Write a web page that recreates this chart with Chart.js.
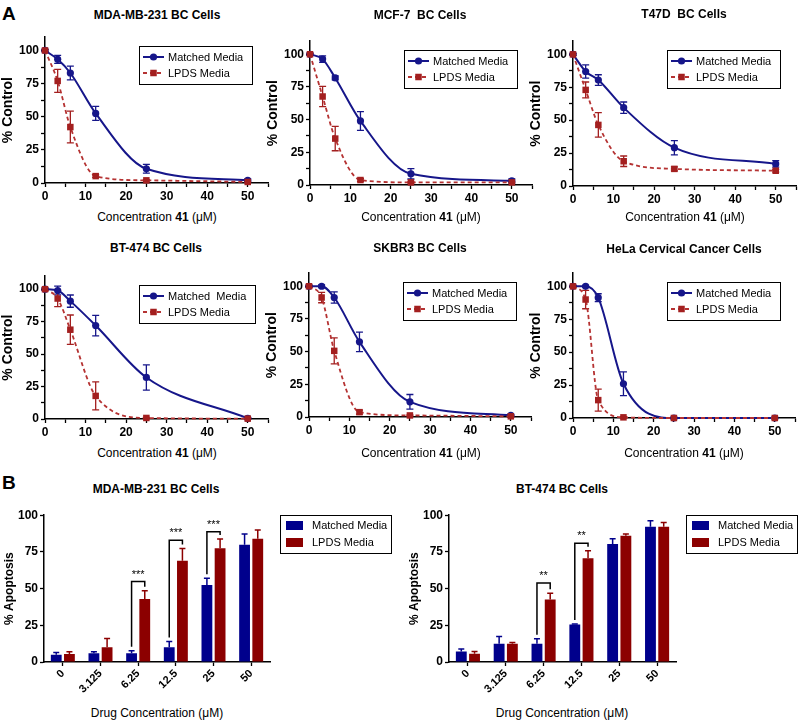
<!DOCTYPE html>
<html><head><meta charset="utf-8">
<script src="https://cdn.jsdelivr.net/npm/chart.js@4.4.1/dist/chart.umd.min.js"></script>
<style>
html,body{margin:0;padding:0;background:#fff}
body{width:799px;height:722px;position:relative;overflow:hidden;font-family:"Liberation Sans",Arial,sans-serif;color:#000}
canvas{position:absolute}
.lbl{position:absolute;transform:translate(-50%,-50%);white-space:pre;line-height:1}
.ttl{font-weight:bold;font-size:12px}
.xt{font-size:12px}
.big{position:absolute;font-weight:bold;font-size:19px;line-height:1}
</style></head>
<body>
<div class="big" style="left:2px;top:4px">A</div>
<div class="big" style="left:2px;top:473px">B</div>
<script>
// ---------- DATA ----------
const concentrations = [0, 3.125, 6.25, 12.5, 25, 50];

const mdaMatched    = [100, 93.3, 83, 52.5, 10.7, 2];
const mdaMatchedErr = [0.8, 3, 5.2, 5.3, 3.3, 1];
const mdaLpds       = [100, 77, 42.2, 5.2, 2, 0.8];
const mdaLpdsErr    = [0.8, 8.7, 12, 1, 0.5, 0.5];

const mcfMatched    = [100, 96.3, 81.9, 49, 8.6, 3.2];
const mcfMatchedErr = [0.8, 2.5, 1.5, 7.2, 4, 1.5];
const mcfLpds       = [100, 67.7, 35.5, 3.8, 2, 2];
const mcfLpdsErr    = [0.8, 7.8, 9.3, 1, 0.5, 0.5];

const t47Matched    = [100, 87, 80.5, 59.5, 29.1, 16.8];
const t47MatchedErr = [0.8, 5, 4, 4.3, 5.4, 2.5];
const t47Lpds       = [100, 73, 46.4, 18.8, 13, 11.6];
const t47LpdsErr    = [0.8, 6, 9.3, 4, 1.5, 1];

const btMatched     = [100, 99, 90.8, 72, 32, 0.5];
const btMatchedErr  = [0.8, 3.4, 4.7, 7.9, 9.7, 0.8];
const btLpds        = [100, 92.8, 68.8, 17.8, 0.8, 0.3];
const btLpdsErr     = [0.8, 6.3, 11.3, 10.8, 0.5, 0.5];

const skMatched     = [100, 100, 91.4, 57.5, 11.6, 1.2];
const skMatchedErr  = [0.8, 1, 4.3, 7.5, 5.6, 0.8];
const skLpds        = [100, 91.4, 50.6, 3.7, 1.2, 0.5];
const skLpdsErr     = [0.8, 4, 10, 1.5, 0.5, 0.5];

const helaMatched    = [100, 100, 91.4, 26, 0, 0];
const helaMatchedErr = [0.8, 0.8, 3, 9, 0.5, 0.5];
const helaLpds       = [100, 90, 13.6, 0.5, 0, 0];
const helaLpdsErr    = [0.8, 7, 8.4, 0.5, 0, 0];

const drugLabels = ['0', '3.125', '6.25', '12.5', '25', '50'];

const mdaApoMatched    = [5, 6, 6, 10, 52.4, 79.8];
const mdaApoMatchedErr = [1.5, 1, 1.6, 4, 4.7, 7.4];
const mdaApoLpds       = [5.5, 10, 43, 69, 77.5, 84];
const mdaApoLpdsErr    = [1.5, 6, 5.6, 8.3, 6.3, 5.9];
const mdaSigIndex = [2, 3, 4];
const mdaSigTop   = [54.8, 82.9, 88.7];
const mdaSigText  = ['***', '***', '***'];

const btApoMatched    = [7.2, 12.4, 12.4, 25.5, 80.4, 92.1];
const btApoMatchedErr = [1.6, 4.9, 3.4, 0.4, 3.6, 4.1];
const btApoLpds       = [5.6, 12.4, 42.6, 70.7, 86, 92.1];
const btApoLpdsErr    = [1.6, 0.9, 4.2, 5, 1.2, 2.9];
const btSigIndex = [2, 3];
const btSigTop   = [53.8, 80.9];
const btSigText  = ['**', '**'];

// ---------- STYLE ----------
const FONT = '"Liberation Sans", Arial, sans-serif';
Chart.defaults.font.family = FONT;
Chart.defaults.color = '#000';
const NAVY = '#16168a', DRED = '#a31f1f', DRED_LINE = '#b53232';
const BAR_BLUE = '#00008c', BAR_RED = '#8c0000';

// ---------- PLUGINS ----------
function drawErrors(chart, o) {
  const ys = chart.scales.y, ctx = chart.ctx;
  ctx.save();
  chart.data.datasets.forEach((ds, i) => {
    const errs = o.errors[i]; if (!errs) return;
    const meta = chart.getDatasetMeta(i);
    ctx.strokeStyle = ds.errorColor || ds.borderColor;
    ctx.lineWidth = o.lineWidth || 1.3;
    meta.data.forEach((el, j) => {
      const raw = ds.data[j]; const v = typeof raw === 'object' ? raw.y : raw;
      const e = errs[j]; if (!e) return;
      const x = el.x;
      const top = ys.getPixelForValue(v + e);
      const bot = o.upOnly ? ys.getPixelForValue(v) : ys.getPixelForValue(v - e);
      ctx.beginPath();
      ctx.moveTo(x, top); ctx.lineTo(x, bot);
      ctx.moveTo(x - o.cap, top); ctx.lineTo(x + o.cap, top);
      if (!o.upOnly) { ctx.moveTo(x - o.cap, bot); ctx.lineTo(x + o.cap, bot); }
      ctx.stroke();
    });
  });
  ctx.restore();
}
const errorBars = {
  id: 'errorBars',
  beforeDatasetsDraw(chart, a, o) { if (o && o.errors && o.layer === 'before') drawErrors(chart, o); },
  afterDatasetsDraw(chart, a, o) { if (o && o.errors && o.layer === 'after') drawErrors(chart, o); }
};

const boxLegend = {
  id: 'boxLegend',
  afterDraw(chart, a, o) {
    if (!o || !o.display) return;
    const ctx = chart.ctx, ca = chart.chartArea;
    const items = chart.data.datasets;
    ctx.save();
    ctx.font = o.font;
    const tw = Math.max(...items.map(d => ctx.measureText(d.label).width));
    const left = Math.round((o.outside ? ca.right : ca.left) + o.dx);
    const top = Math.round(ca.top + o.dy);
    const w = Math.round(o.padLeft + o.sampleWidth + o.gap + tw + o.padRight);
    const h = Math.round(o.rowHeight * items.length + o.padY * 2);
    ctx.fillStyle = '#fff'; ctx.fillRect(left, top, w, h);
    ctx.strokeStyle = '#000'; ctx.lineWidth = 1; ctx.strokeRect(left + 0.5, top + 0.5, w, h);
    items.forEach((d, i) => {
      const cy = top + o.padY + o.rowHeight * (i + 0.5);
      const sx = left + o.padLeft;
      if (o.kind === 'line') {
        ctx.strokeStyle = d.borderColor; ctx.lineWidth = d.borderWidth;
        ctx.setLineDash(d.borderDash || []);
        ctx.beginPath(); ctx.moveTo(sx, cy); ctx.lineTo(sx + o.sampleWidth, cy); ctx.stroke();
        ctx.setLineDash([]);
        const mx = sx + o.sampleWidth / 2;
        ctx.fillStyle = d.pointBackgroundColor;
        if (d.pointStyle === 'rect') {
          const s = Math.SQRT1_2 * d.pointRadius;
          ctx.fillRect(mx - s, cy - s, 2 * s, 2 * s);
        } else {
          ctx.beginPath(); ctx.arc(mx, cy, d.pointRadius, 0, Math.PI * 2); ctx.fill();
        }
      } else {
        ctx.fillStyle = d.backgroundColor;
        ctx.fillRect(sx, cy - o.boxH / 2, o.sampleWidth, o.boxH);
      }
      ctx.fillStyle = '#000'; ctx.textBaseline = 'middle'; ctx.textAlign = 'left';
      ctx.fillText(d.label, sx + o.sampleWidth + o.gap, cy + 0.5);
    });
    ctx.restore();
  }
};

const sigBrackets = {
  id: 'sigBrackets',
  afterDatasetsDraw(chart, a, o) {
    if (!o || !o.index) return;
    const ys = chart.scales.y, ctx = chart.ctx;
    const eb = chart.options.plugins.errorBars;
    const d0 = chart.data.datasets[0].data, d1 = chart.data.datasets[1].data;
    const m0 = chart.getDatasetMeta(0), m1 = chart.getDatasetMeta(1);
    ctx.save();
    ctx.strokeStyle = '#000'; ctx.lineWidth = 1.5; ctx.fillStyle = '#000';
    ctx.font = o.font; ctx.textAlign = 'center'; ctx.textBaseline = 'middle';
    o.index.forEach((ci, k) => {
      const x0 = m0.data[ci].x, x1 = m1.data[ci].x;
      const yt = ys.getPixelForValue(o.top[k]);
      const yl = ys.getPixelForValue(d0[ci] + eb.errors[0][ci]) - o.gap;
      const yr = ys.getPixelForValue(d1[ci] + eb.errors[1][ci]) - o.gap;
      ctx.beginPath();
      ctx.moveTo(x0, yl); ctx.lineTo(x0, yt); ctx.lineTo(x1, yt); ctx.lineTo(x1, yr);
      ctx.stroke();
      ctx.fillText(o.text[k], (x0 + x1) / 2, yt - 7);
    });
    ctx.restore();
  }
};

// ---------- HELPERS ----------
function addText(cls, html, cx, cy) {
  const d = document.createElement('div');
  d.className = 'lbl ' + cls; d.innerHTML = html;
  d.style.left = cx + 'px'; d.style.top = cy + 'px';
  document.body.appendChild(d);
}
function makeCanvas(left, top, width, height) {
  const c = document.createElement('canvas');
  c.width = width; c.height = height;
  c.style.left = left + 'px'; c.style.top = top + 'px';
  c.style.width = width + 'px'; c.style.height = height + 'px';
  document.body.appendChild(c);
  return c.getContext('2d');
}
const tickFont = { size: 12, weight: 'bold', family: FONT };
function axisCommon() {
  return {
    grid: { display: true, drawOnChartArea: false, drawTicks: true, tickLength: 4, color: '#000', tickColor: '#000', tickWidth: 1.3 },
    border: { display: true, color: '#000', width: 1.5 }
  };
}

function linePanel(g, matched, matchedErr, lpds, lpdsErr, matchedLabel) {
  const YW = 45, PT = 6, PR = 3, XH = 24;
  const ctx = makeCanvas(g.L - YW, g.T - PT, g.R - g.L + YW + PR, g.B - g.T + PT + XH);
  const pts = arr => concentrations.map((c, i) => ({ x: c, y: arr[i] }));
  new Chart(ctx, {
    type: 'line',
    data: { datasets: [
      { label: matchedLabel, data: pts(matched), borderColor: NAVY, borderWidth: 2,
        pointStyle: 'circle', pointRadius: 3.6, pointBackgroundColor: NAVY, pointBorderColor: NAVY, pointBorderWidth: 0,
        cubicInterpolationMode: 'monotone', clip: false, order: 1 },
      { label: 'LPDS Media', data: pts(lpds), borderColor: DRED_LINE, borderWidth: 1.8, borderDash: [4, 3],
        errorColor: DRED, pointStyle: 'rect', pointRadius: 4.6, pointBackgroundColor: DRED, pointBorderColor: DRED, pointBorderWidth: 0,
        cubicInterpolationMode: 'monotone', clip: false, order: 0 }
    ]},
    options: {
      responsive: false, animation: false, devicePixelRatio: 1,
      layout: { autoPadding: false, padding: { top: PT, right: PR, left: 0, bottom: 0 } },
      scales: {
        x: Object.assign(axisCommon(), { type: 'linear', min: 0, max: 55,
          ticks: { stepSize: 5, autoSkip: false, maxRotation: 0, padding: 2, font: tickFont, color: '#000',
                   callback: v => (v % 10 === 0 && v <= 50) ? String(v) : '' },
          afterFit: s => { s.height = XH; } }),
        y: Object.assign(axisCommon(), { min: 0, max: 110,
          ticks: { stepSize: 12.5, includeBounds: false, autoSkip: false, padding: 2, font: tickFont, color: '#000',
                   callback: v => (v % 25 === 0) ? String(v) : '' },
          title: { display: true, text: '% Control', font: { size: 14, weight: 'bold', family: FONT }, color: '#000', padding: 0 },
          afterFit: s => { s.width = YW; } })
      },
      plugins: {
        legend: { display: false }, tooltip: { enabled: false },
        errorBars: { layer: 'before', errors: [matchedErr, lpdsErr], cap: 3.5, lineWidth: 1.3 },
        boxLegend: { display: true, kind: 'line', font: '11px ' + FONT, dx: 94, dy: 9,
                     padLeft: 4, sampleWidth: 21, gap: 4, padRight: 9, rowHeight: 16, padY: 3 }
      }
    },
    plugins: [errorBars, boxLegend]
  });
}

function barPanel(g, matched, matchedErr, lpds, lpdsErr, sigIndex, sigTop, sigText) {
  const YW = 42, PT = 8, PR = g.PR, XH = 40;
  const ctx = makeCanvas(g.L - YW, g.T - PT, g.R - g.L + YW + PR, g.B - g.T + PT + XH);
  new Chart(ctx, {
    type: 'bar',
    data: { labels: drugLabels, datasets: [
      { label: 'Matched Media', data: matched, backgroundColor: BAR_BLUE, borderColor: BAR_BLUE, borderWidth: 0,
        categoryPercentage: 0.7, barPercentage: 0.82 },
      { label: 'LPDS Media', data: lpds, backgroundColor: BAR_RED, borderColor: BAR_RED, borderWidth: 0,
        categoryPercentage: 0.7, barPercentage: 0.82 }
    ]},
    options: {
      responsive: false, animation: false, devicePixelRatio: 1,
      layout: { autoPadding: false, padding: { top: PT, right: PR, left: 0, bottom: 0 } },
      scales: {
        x: Object.assign(axisCommon(), { type: 'category', offset: true,
          grid: { display: true, offset: false, drawOnChartArea: false, drawTicks: true, tickLength: 4, color: '#000', tickColor: '#000', tickWidth: 1.3 },
          ticks: { autoSkip: false, minRotation: 45, maxRotation: 45, padding: 1, font: { size: 11, weight: 'bold', family: FONT }, color: '#000' },
          afterFit: s => { s.height = XH; } }),
        y: Object.assign(axisCommon(), { min: 0, max: 100,
          ticks: { stepSize: 25, autoSkip: false, padding: 2, font: tickFont, color: '#000' },
          title: { display: true, text: '% Apoptosis', font: { size: 12, weight: 'bold', family: FONT }, color: '#000', padding: 0 },
          afterFit: s => { s.width = YW; } })
      },
      plugins: {
        legend: { display: false }, tooltip: { enabled: false },
        errorBars: { layer: 'after', upOnly: true, errors: [matchedErr, lpdsErr], cap: 3, lineWidth: 1.5 },
        sigBrackets: { index: sigIndex, top: sigTop, text: sigText, gap: 4, font: '11px ' + FONT },
        boxLegend: { display: true, outside: true, kind: 'bar', font: '11px ' + FONT, dx: 10, dy: 0,
                     padLeft: 6, sampleWidth: 17, boxH: 9, gap: 9, padRight: 4, rowHeight: 17, padY: 2 }
      }
    },
    plugins: [errorBars, sigBrackets, boxLegend]
  });
}

// ---------- PANELS ----------
linePanel({ L: 45,  T: 34,  R: 268, B: 183 }, mdaMatched, mdaMatchedErr, mdaLpds, mdaLpdsErr, 'Matched Media');
linePanel({ L: 310, T: 38,  R: 532, B: 185 }, mcfMatched, mcfMatchedErr, mcfLpds, mcfLpdsErr, 'Matched Media');
linePanel({ L: 573, T: 38,  R: 796, B: 186 }, t47Matched, t47MatchedErr, t47Lpds, t47LpdsErr, 'Matched Media');
linePanel({ L: 45,  T: 273, R: 268, B: 419 }, btMatched, btMatchedErr, btLpds, btLpdsErr, 'Matched  Media');
linePanel({ L: 309, T: 270, R: 531, B: 417 }, skMatched, skMatchedErr, skLpds, skLpdsErr, 'Matched Media');
linePanel({ L: 573, T: 270, R: 795, B: 418 }, helaMatched, helaMatchedErr, helaLpds, helaLpdsErr, 'Matched Media');

barPanel({ L: 44,  T: 514, R: 270, B: 662, PR: 126 }, mdaApoMatched, mdaApoMatchedErr, mdaApoLpds, mdaApoLpdsErr, mdaSigIndex, mdaSigTop, mdaSigText);
barPanel({ L: 449, T: 514, R: 676, B: 662, PR: 122 }, btApoMatched, btApoMatchedErr, btApoLpds, btApoLpdsErr, btSigIndex, btSigTop, btSigText);

// ---------- TEXT ----------
addText('ttl', 'MDA-MB-231 BC Cells', 157, 15);
addText('ttl', 'MCF-7  BC Cells', 420, 15);
addText('ttl', 'T47D  BC Cells', 684, 14);
addText('ttl', 'BT-474 BC Cells', 156, 248);
addText('ttl', 'SKBR3 BC Cells', 420, 248);
addText('ttl', 'HeLa Cervical Cancer Cells', 684, 249);
addText('ttl', 'MDA-MB-231 BC Cells', 156, 489);
addText('ttl', 'BT-474 BC Cells', 562, 489);
const xTitle = 'Concentration <b>41</b> (\u03bcM)';
addText('xt', xTitle, 157, 217);
addText('xt', xTitle, 421, 217);
addText('xt', xTitle, 685, 217);
addText('xt', xTitle, 157, 453);
addText('xt', xTitle, 421, 453);
addText('xt', xTitle, 684, 453);
addText('xt', 'Drug Concentration (\u03bcM)', 157, 713);
addText('xt', 'Drug Concentration (\u03bcM)', 562, 713);
</script>
</body></html>
